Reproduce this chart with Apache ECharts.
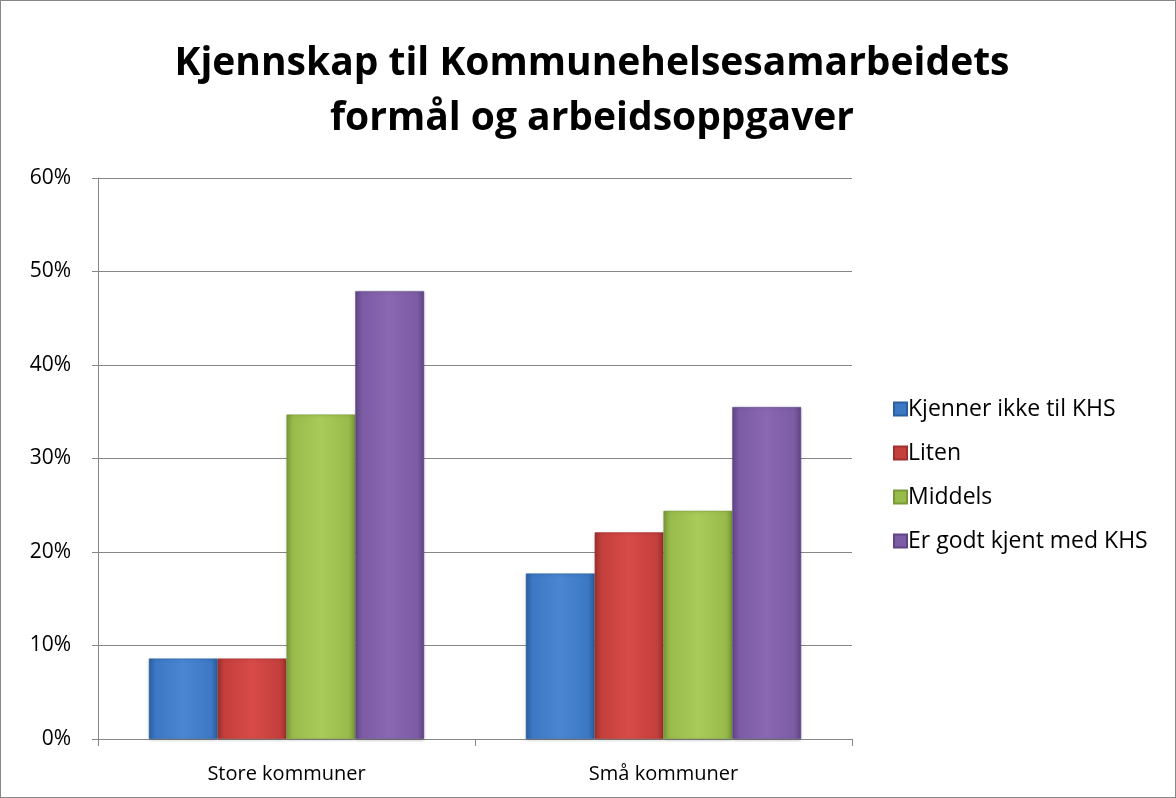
<!DOCTYPE html>
<html><head><meta charset="utf-8">
<script src="https://cdn.jsdelivr.net/npm/echarts@6/dist/echarts.min.js"></script>
<style>html,body{margin:0;padding:0;background:#fff}#c{width:1174px;height:796px;border:1px solid #878787;}</style>
</head><body><div id="c"></div>
<script>
const categories = ['Store kommuner', 'Små kommuner'];
const seriesNames = ['Kjenner ikke til KHS', 'Liten', 'Middels', 'Er godt kjent med KHS'];
const kjennerIkke = [8.6, 17.7];
const liten = [8.6, 22.1];
const middels = [34.7, 24.4];
const godtKjent = [47.9, 35.5];
const yTicks = [0, 10, 20, 30, 40, 50, 60];
const titleLines = ['Kjennskap til Kommunehelsesamarbeidets', 'formål og arbeidsoppgaver'];

const colors = [
  ['#4a86d2', '#3c78c4', '#2c5f9f'],
  ['#d84a47', '#c4403d', '#9f302e'],
  ['#a9cb58', '#99bb4c', '#7a9a38'],
  ['#8a68b2', '#7c5ca4', '#5f4585']
];
function grad(c) {
  return new echarts.graphic.LinearGradient(0, 0, 1, 0, [
    {offset: 0, color: c[2]}, {offset: 0.1, color: c[1]},
    {offset: 0.5, color: c[0]}, {offset: 0.9, color: c[1]}, {offset: 1, color: c[2]}
  ]);
}
const dataArr = [kjennerIkke, liten, middels, godtKjent];
const font = '"Open Sans", "Noto Sans", sans-serif';
const chart = echarts.init(document.getElementById('c'));
chart.setOption({
  animation: false,
  textStyle: {fontFamily: font},
  title: {
    text: titleLines.join('\n'), left: 586, textAlign: 'center', top: 30,
    textStyle: {fontFamily: font, fontWeight: 'bold', fontSize: 39, lineHeight: 55, color: '#000'}
  },
  legend: {
    orient: 'vertical', left: 887, top: 391, itemGap: 20, itemWidth: 13, itemHeight: 13,
    icon: 'rect',
    textStyle: {fontFamily: font, fontSize: 23, lineHeight: 24, color: '#000', padding: [0, 0, 0, -4]},
    data: seriesNames.map((n, i) => ({name: n, itemStyle: {color: colors[i][1]}}))
  },
  grid: {left: 97, right: 1174 - 851, top: 177, bottom: 796 - 738},
  xAxis: {
    type: 'category', data: categories,
    axisLine: {lineStyle: {color: '#878787', width: 1}},
    axisTick: {show: true, length: 7, lineStyle: {color: '#878787'}},
    axisLabel: {fontFamily: font, fontSize: 20, color: '#000', margin: 25}
  },
  yAxis: {
    type: 'value', min: 0, max: 60, interval: 10,
    axisLine: {show: true, lineStyle: {color: '#878787'}},
    axisTick: {show: true, length: 6, lineStyle: {color: '#878787'}},
    splitLine: {lineStyle: {color: '#878787', width: 1}},
    axisLabel: {fontFamily: font, fontSize: 21, color: '#000', margin: 27,
      formatter: v => yTicks.includes(v) ? v + '%' : ''}
  },
  series: seriesNames.map((n, i) => ({
    name: n, type: 'bar', data: dataArr[i],
    barGap: '0%', barCategoryGap: '27%',
    itemStyle: {color: grad(colors[i]), borderColor: colors[i][2], borderWidth: 0.5,
      shadowColor: 'rgba(0,0,0,0.25)', shadowBlur: 3, shadowOffsetY: 1}
  }))
});
</script></body></html>
